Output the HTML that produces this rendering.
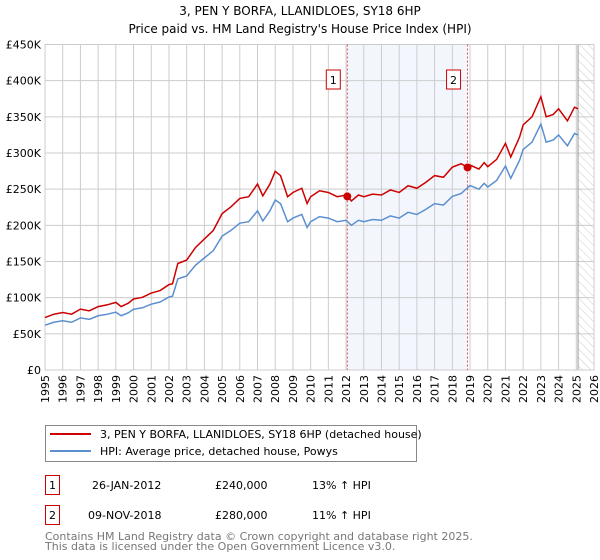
<!DOCTYPE html>
<html><head><meta charset="utf-8"><style>
body{margin:0;width:600px;height:560px;background:#fff;font-family:"DejaVu Sans",sans-serif;overflow:hidden}
svg{position:absolute;left:0;top:0}
</style></head><body>
<svg id="c" width="600" height="560" font-family="DejaVu Sans, sans-serif">
<defs><pattern id="hatch" width="6" height="6" patternUnits="userSpaceOnUse" patternTransform="rotate(-45)"><line x1="0" y1="0" x2="0" y2="6" stroke="#ccc" stroke-width="1"/></pattern></defs>
<text x="300" y="15" text-anchor="middle" font-size="12">3, PEN Y BORFA, LLANIDLOES, SY18 6HP</text>
<text x="300" y="33" text-anchor="middle" font-size="12">Price paid vs. HM Land Registry's House Price Index (HPI)</text>
<g id="plot"></g>
<g>
<rect x="45.5" y="425.5" width="371" height="36" fill="#fff" stroke="#888"/>
<line x1="50" y1="434" x2="91" y2="434" stroke="#cc0000" stroke-width="2"/>
<text x="100" y="438" font-size="11">3, PEN Y BORFA, LLANIDLOES, SY18 6HP (detached house)</text>
<line x1="50" y1="451" x2="91" y2="451" stroke="#5b8fd0" stroke-width="2"/>
<text x="100" y="455" font-size="11">HPI: Average price, detached house, Powys</text>
</g>
<g font-size="11">
<rect x="45.5" y="475.5" width="14" height="19" fill="#fff" stroke="#cc0000"/>
<text x="52.5" y="489" text-anchor="middle">1</text>
<text x="92" y="489">26-JAN-2012</text><text x="215" y="489">£240,000</text><text x="312" y="489">13% ↑ HPI</text>
<rect x="45.5" y="505.5" width="14" height="19" fill="#fff" stroke="#cc0000"/>
<text x="52.5" y="519" text-anchor="middle">2</text>
<text x="88" y="519">09-NOV-2018</text><text x="215" y="519">£280,000</text><text x="312" y="519">11% ↑ HPI</text>
</g>
<text x="45" y="540" font-size="11" fill="#777">Contains HM Land Registry data © Crown copyright and database right 2025.</text>
<text x="45" y="550" font-size="11" fill="#777">This data is licensed under the Open Government Licence v3.0.</text>
</svg>
<script>
const hpiYears=[1995,1995.5,1996,1996.5,1997,1997.5,1998,1998.5,1999,1999.3,1999.7,2000,2000.5,2001,2001.5,2002,2002.2,2002.5,2003,2003.5,2004,2004.5,2005,2005.5,2006,2006.5,2007,2007.3,2007.7,2008,2008.3,2008.7,2009,2009.5,2009.8,2010,2010.5,2011,2011.5,2012,2012.3,2012.7,2013,2013.5,2014,2014.5,2015,2015.5,2016,2016.5,2017,2017.5,2018,2018.5,2018.86,2019,2019.5,2019.8,2020,2020.5,2021,2021.3,2021.8,2022,2022.5,2023,2023.3,2023.7,2024,2024.5,2024.9,2025.1];
const hpiValues=[62,66,68,66,72,70,75,77,80,75,79,84,86,91,94,101,102,126,130,145,155,165,185,193,203,205,220,206,220,235,230,205,210,215,197,205,212,210,205,207,200,207,205,208,207,213,210,218,215,222,230,228,240,244,252,255,250,258,253,262,282,265,290,305,315,340,315,318,325,310,327,325];
const saleYears=[2012.07,2018.86];
const saleValues=[240,280];
const saleLabels=["1","2"];
const yTicks=[0,50,100,150,200,250,300,350,400,450];
const yTickLabels=["£0","£50K","£100K","£150K","£200K","£250K","£300K","£350K","£400K","£450K"];
const xTicks=[1995,1996,1997,1998,1999,2000,2001,2002,2003,2004,2005,2006,2007,2008,2009,2010,2011,2012,2013,2014,2015,2016,2017,2018,2019,2020,2021,2022,2023,2024,2025,2026];
const dataEnd=2025.1;

const X0=45,X1=594,Y0=370,Y1=44.5;
const sx=v=>X0+(v-1995)/(2026-1995)*(X1-X0);
const sy=v=>Y0-v/450*(Y0-Y1);
const NS="http://www.w3.org/2000/svg";
const g=document.getElementById('plot');
function mk(t,a,p){const e=document.createElementNS(NS,t);for(const k in a)e.setAttribute(k,a[k]);(p||g).appendChild(e);return e;}
function hpiAt(y){for(let i=1;i<hpiYears.length;i++){if(y<=hpiYears[i]){const t=(y-hpiYears[i-1])/(hpiYears[i]-hpiYears[i-1]);return hpiValues[i-1]+t*(hpiValues[i]-hpiValues[i-1]);}}return hpiValues[hpiValues.length-1];}
// shaded region
let r=mk('rect',{x:sx(saleYears[0]),y:Y1,width:sx(saleYears[1])-sx(saleYears[0]),height:Y0-Y1,fill:'#eef3fc',opacity:0.7});


let h=mk('rect',{x:sx(dataEnd),y:Y1,width:X1-sx(dataEnd),height:Y0-Y1,fill:'url(#hatch)'});


yTicks.forEach((v,i)=>{
 mk('line',{x1:X0,x2:X1,y1:sy(v),y2:sy(v),stroke:'#ccc'});
 const t=mk('text',{x:X0-4,y:sy(v)+4,'text-anchor':'end','font-size':11});t.textContent=yTickLabels[i];
 
 
});
xTicks.forEach(v=>{
 mk('line',{x1:sx(v),x2:sx(v),y1:Y1,y2:Y0,stroke:'#ccc'});
 const t=mk('text',{x:0,y:0,'font-size':11,'text-anchor':'end',transform:`translate(${sx(v)+4},${Y0+5}) rotate(-90)`});t.textContent=v;
 
 
});
mk('line',{x1:sx(dataEnd),x2:sx(dataEnd),y1:Y1,y2:Y0,stroke:'#999'});
mk('rect',{x:X0,y:Y1,width:X1-X0,height:Y0-Y1,fill:'none',stroke:'#ccc'});
saleYears.forEach((y,i)=>{
 const l=mk('line',{x1:sx(y),x2:sx(y),y1:Y1,y2:Y0,stroke:'#e05050','stroke-dasharray':'2,2'});
 
 
 const b=mk('rect',{x:sx(y)-21,y:70,width:14,height:19,fill:'#fff',stroke:'#cc0000'});
 
 
 const t=mk('text',{x:sx(y)-14,y:84,'text-anchor':'middle','font-size':11});t.textContent=saleLabels[i];
});
// hpi line
const hp=mk('polyline',{points:hpiYears.map((y,i)=>sx(y)+','+sy(hpiValues[i])).join(' '),fill:'none',stroke:'#5b8fd0','stroke-width':1.5});


// property line: HPI indexed to sale prices
const pr=hpiYears.map((y,i)=>{const k=y<saleYears[1]?0:1;return sx(y)+','+sy(hpiValues[i]*saleValues[k]/hpiAt(saleYears[k]));});
const pl=mk('polyline',{points:pr.join(' '),fill:'none',stroke:'#cc0000','stroke-width':1.5});


saleYears.forEach((y,i)=>{
 const c=mk('circle',{cx:sx(y),cy:sy(saleValues[i]),r:4,fill:'#cc0000'});
 
 
});
</script>
</body></html>
